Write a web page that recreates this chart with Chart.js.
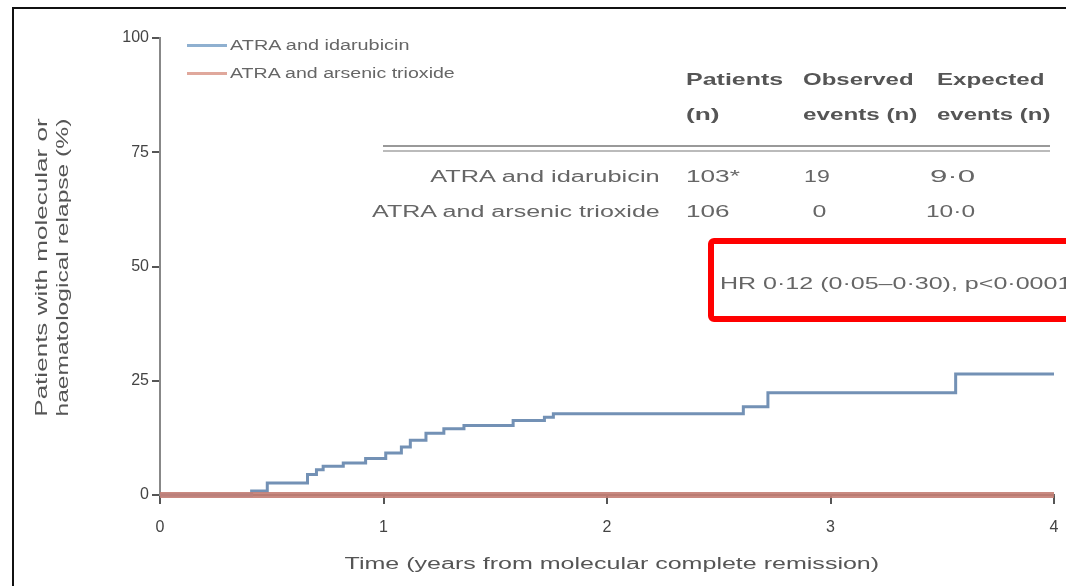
<!DOCTYPE html>
<html>
<head>
<meta charset="utf-8">
<script src="https://cdn.jsdelivr.net/npm/chart.js@4"></script>
<style>
  body { margin: 0; background: #fff; font-family: "Liberation Sans", Arial, sans-serif; color: #555; }
  #wrap { position: relative; width: 1066px; height: 586px; overflow: hidden; }
  #frame { position: absolute; left: 12px; top: 7px; width: 1070px; height: 600px; border: 2px solid #111; box-sizing: border-box; }
  canvas { position: absolute; left: 0; top: 0; }
  .t { position: absolute; white-space: nowrap; line-height: 1.2; }
  .lg { font-size: 14px; color: #666; }
  .th { font-size: 17px; font-weight: bold; color: #555; }
  .td { font-size: 16px; color: #666; }
  .ax { font-size: 16px; color: #555; }
  .sw { position: absolute; width: 40px; height: 3px; }
  #rule { position: absolute; left: 383px; top: 145px; width: 667px; height: 3px; border-top: 2px solid #999; border-bottom: 2px solid #bbb; }
  #hr { position: absolute; left: 708px; top: 238px; width: 380px; height: 84px; border: 6px solid #f00; border-radius: 6px; box-sizing: border-box; }
</style>
</head>
<body>
<div id="wrap">
  <canvas id="kmChart" width="1066" height="586"></canvas>
  <div id="frame"></div>

  <div class="sw" style="left:187px;top:44px;background:#8fb0d0"></div>
  <div class="sw" style="left:187px;top:72px;background:#e0a89c"></div>
  <div class="t lg" data-x="230" data-y="45" data-w="180" data-a="l">ATRA and idarubicin</div>
  <div class="t lg" data-x="230" data-y="73" data-w="225" data-a="l">ATRA and arsenic trioxide</div>

  <div class="t th" data-x="686" data-y="80" data-w="97" data-a="l">Patients</div>
  <div class="t th" data-x="686" data-y="115" data-w="34" data-a="l">(n)</div>
  <div class="t th" data-x="803" data-y="80" data-w="110" data-a="l">Observed</div>
  <div class="t th" data-x="803" data-y="115" data-w="114" data-a="l">events (n)</div>
  <div class="t th" data-x="937" data-y="80" data-w="108" data-a="l">Expected</div>
  <div class="t th" data-x="937" data-y="115" data-w="113" data-a="l">events (n)</div>
  <div id="rule"></div>
  <div class="t td" data-x="660" data-y="176" data-w="230" data-a="r">ATRA and idarubicin</div>
  <div class="t td" data-x="660" data-y="211" data-w="288" data-a="r">ATRA and arsenic trioxide</div>
  <div class="t td" data-x="686" data-y="176" data-w="54" data-a="l">103*</div>
  <div class="t td" data-x="686" data-y="211" data-w="44" data-a="l">106</div>
  <div class="t td" data-x="817" data-y="176" data-w="26" data-a="c">19</div>
  <div class="t td" data-x="819" data-y="211" data-w="14" data-a="c">0</div>
  <div class="t td" data-x="975" data-y="176" data-w="45" data-a="r">9·0</div>
  <div class="t td" data-x="975" data-y="211" data-w="49" data-a="r">10·0</div>

  <div id="hr"></div>
  <div class="t td" data-x="720" data-y="283" data-w="352" data-a="l">HR 0·12 (0·05–0·30), p&lt;0·0001</div>

  <div class="t ax" data-x="612" data-y="563" data-w="535" data-a="c">Time (years from molecular complete remission)</div>
  <div class="t ax" data-x="41" data-y="267" data-w="298" data-a="c" data-r="1">Patients with molecular or</div>
  <div class="t ax" data-x="63" data-y="267" data-w="298" data-a="c" data-r="1">haematological relapse (%)</div>
</div>
<script>
// Step curve: time in years, cumulative relapse in %
var idaTimes  = [0, 0.41, 0.48, 0.66, 0.70, 0.73, 0.82, 0.92, 1.01, 1.08, 1.12, 1.19, 1.27, 1.36, 1.58, 1.72, 1.76, 2.61, 2.72, 3.56, 4.0];
var idaValues = [0, 0.9, 2.6, 4.5, 5.5, 6.3, 7.0, 8.0, 9.2, 10.5, 12.0, 13.5, 14.5, 15.2, 16.3, 17.0, 17.8, 19.3, 22.4, 26.5, 26.5];
var atoTimes  = [0, 4.0];
var atoValues = [0, 0];
var xTicks = [0, 1, 2, 3, 4];
var yTicks = [0, 25, 50, 75, 100];

function toPoints(xs, ys) {
    return xs.map(function (x, i) { return { x: x, y: ys[i] }; });
}

// the labels in the figure are stretched wide, so squeeze/stretch each to its width
function placeText(el) {
    var x = +el.dataset.x, y = +el.dataset.y, w = +el.dataset.w;
    var nw = el.offsetWidth, nh = el.offsetHeight;
    var k = w / nw;
    el.style.top = (y - nh / 2) + 'px';
    if (el.dataset.r) {
        el.style.left = (x - nw / 2) + 'px';
        el.style.transformOrigin = 'center';
        el.style.transform = 'rotate(-90deg) scaleX(' + k + ')';
        return;
    }
    if (el.dataset.a === 'l') { el.style.left = x + 'px'; el.style.transformOrigin = 'left center'; }
    else if (el.dataset.a === 'r') { el.style.left = (x - nw) + 'px'; el.style.transformOrigin = 'right center'; }
    else { el.style.left = (x - nw / 2) + 'px'; el.style.transformOrigin = 'center'; }
    el.style.transform = 'scaleX(' + k + ')';
}

var dataKm = {
    datasets: [
        {
            label: "ATRA and arsenic trioxide",
            data: toPoints(atoTimes, atoValues),
            borderColor: "rgba(195,125,115,0.9)",
            borderWidth: 6,
            pointRadius: 0,
            stepped: 'before',
            clip: false
        },
        {
            label: "ATRA and idarubicin",
            data: toPoints(idaTimes, idaValues),
            borderColor: "#7391b5",
            borderWidth: 3,
            pointRadius: 0,
            stepped: 'before',
            clip: false
        }
    ]
};

var tickFont = { size: 16, family: "'Liberation Sans', Arial, sans-serif" };

var optKm = {
    responsive: false,
    animation: false,
    layout: { padding: { left: 30, right: 4, top: 38, bottom: 10 } },
    plugins: { legend: { display: false }, tooltip: { enabled: false } },
    scales: {
        x: {
            type: 'linear',
            min: 0,
            max: 4,
            afterBuildTicks: function (s) { s.ticks = xTicks.map(function (v) { return { value: v }; }); },
            afterFit: function (s) { s.height = 81; s.paddingRight = 12; },
            grid: { drawOnChartArea: false, tickLength: 9, color: '#555', lineWidth: 2 },
            border: { color: '#666', width: 2 },
            ticks: { color: '#444', font: tickFont, padding: 14 }
        },
        y: {
            min: 0,
            max: 100,
            afterBuildTicks: function (s) { s.ticks = yTicks.map(function (v) { return { value: v }; }); },
            afterFit: function (s) { s.width = 130; },
            grid: { drawOnChartArea: false, tickLength: 8, color: '#555', lineWidth: 2 },
            border: { color: '#888', width: 2 },
            ticks: { color: '#444', font: tickFont, padding: 3 }
        }
    }
};

(function () {
    var kmObj = document.getElementById("kmChart").getContext("2d");
    var kmChart = new Chart(kmObj, {
        type: 'line',
        data: dataKm,
        options: optKm
    });
    document.querySelectorAll('.t').forEach(placeText);
})();
</script>
</body>
</html>
